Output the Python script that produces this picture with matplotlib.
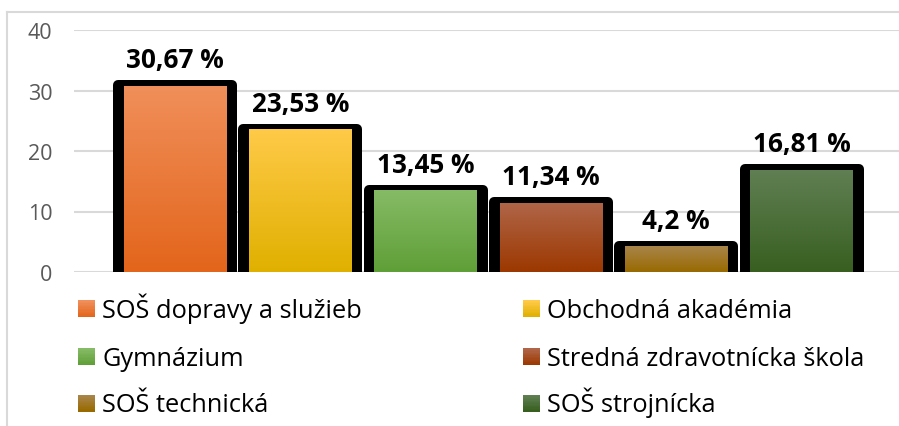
import numpy as np
import matplotlib
matplotlib.use("Agg")
import matplotlib.pyplot as plt
from matplotlib.colors import LinearSegmentedColormap, to_rgb
from matplotlib.patches import Rectangle
from matplotlib.lines import Line2D

plt.rcParams['font.family'] = ['Open Sans', 'DejaVu Sans']

# data
schools = ["SOŠ dopravy a služieb", "Obchodná akadémia", "Gymnázium",
           "Stredná zdravotnícka škola", "SOŠ technická", "SOŠ strojnícka"]
shares = [30.67, 23.53, 13.45, 11.34, 4.2, 16.81]
top_colors = ["#f08f5a", "#ffca48", "#86bb66", "#b06548", "#a8854a", "#607f53"]
bot_colors = ["#e3651b", "#e0b000", "#5f9f37", "#9c3800", "#996a00", "#385f20"]
yticks = [0, 10, 20, 30, 40]

W, H = 899, 427
fig = plt.figure(figsize=(W / 100, H / 100), dpi=100)
ax = fig.add_axes([74 / W, 1 - 273 / H, (W - 74) / W, (273 - 31) / H])


def fx(px):
    return px / W


def fy(py):
    return 1 - py / H


# chart area border (light gray, cut off at right/bottom)
fig.add_artist(Line2D([fx(7), fx(7)], [0, fy(12.5)], transform=fig.transFigure,
                      color="#d9d9d9", lw=1.5))
fig.add_artist(Line2D([fx(7), 1], [fy(12.5), fy(12.5)], transform=fig.transFigure,
                      color="#d9d9d9", lw=1.5))

x = np.arange(len(shares))
px_per_unit = (273 - 31) / 40.0  # pixels per percent

# black thick frame behind each bar (round joins give the soft corners)
ax.bar(x, np.array(shares) + 1.0 / px_per_unit, width=0.91, color="black",
       edgecolor="black", linewidth=7.2, joinstyle="round", zorder=2)

# gradient fill inside
grad = np.linspace(0, 1, 256).reshape(-1, 1)
for i, v in enumerate(shares):
    cmap = LinearSegmentedColormap.from_list("g%d" % i, [bot_colors[i], top_colors[i]])
    ax.imshow(grad, extent=(i - 0.408, i + 0.408, 0, v), origin="lower",
              aspect="auto", cmap=cmap, zorder=3, interpolation="bilinear")

# value labels
for i, v in enumerate(shares):
    lbl = ("%g" % v).replace(".", ",") + " %"
    ax.annotate(lbl, (i, v), xytext=(0, 13.7), textcoords="offset points",
                ha="center", va="baseline", fontsize=18.8, fontweight="bold",
                color="black", zorder=5)

ax.set_xlim(-0.806, 5.778)
ax.set_ylim(0, 40)
ax.set_yticks(yticks)
ax.set_xticks([])
ax.yaxis.grid(True, color="#d9d9d9", lw=1.5)
ax.set_axisbelow(True)
for s in ax.spines.values():
    s.set_visible(False)
ax.tick_params(axis="y", length=0, pad=15.5, labelsize=15.5, labelcolor="#595959")

# legend: two columns, three rows
col_x = [78, 523]
row_base = [318, 366, 412.5]
sq = 16.5
for i, name in enumerate(schools):
    cx = col_x[i % 2]
    by = row_base[i // 2]
    top = np.array(to_rgb(top_colors[i]))
    bot = np.array(to_rgb(bot_colors[i]))
    n = 12
    for k in range(n):
        c = bot + (top - bot) * k / (n - 1)
        y0 = by - sq * (k + 1) / n
        fig.add_artist(Rectangle((fx(cx), fy(y0 + sq / n)), sq / W, sq / n / H * 1.08,
                                 transform=fig.transFigure, facecolor=c,
                                 edgecolor="none"))
    fig.text(fx(cx + sq + 7.5), fy(by), name, fontsize=18.3, color="black",
             ha="left", va="baseline")

fig.savefig("out.png", dpi=100)
